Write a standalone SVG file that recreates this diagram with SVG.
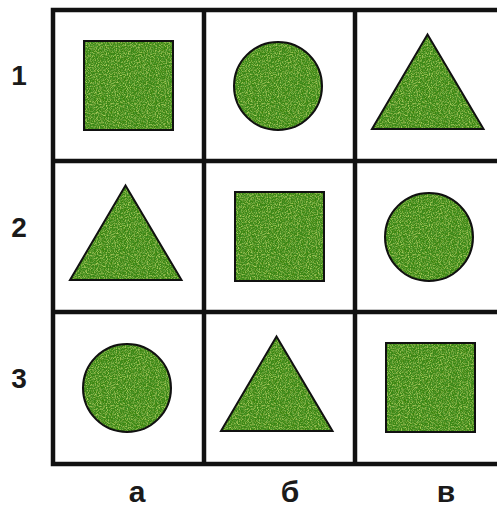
<svg xmlns="http://www.w3.org/2000/svg" xmlns:xlink="http://www.w3.org/1999/xlink" width="497" height="509" viewBox="0 0 497 509">
  <style>
    .grid { fill: none; stroke: #111; stroke-width: 4.5; }
    .fig { fill: #3b8618; stroke: none; }
    .edge { fill: none; stroke: #111; stroke-width: 2; }
    .lbl { font-family: "Liberation Sans", Arial, sans-serif; font-weight: bold; fill: #1a1a1a; text-anchor: middle; }
    .num { font-size: 28px; }
    .let { font-size: 30px; }
  </style>
  <defs>
    <filter id="grain" x="0" y="0" width="100%" height="100%">
      <feTurbulence type="fractalNoise" baseFrequency="0.9" numOctaves="2" seed="4" result="n"/>
      <feColorMatrix in="n" type="matrix" values="0 0 0 0 0.55  0 0 0 0 0.78  0 0 0 0 0.15  2.0 0 0 0 -0.95" result="sp"/>
      <feComposite in="sp" in2="SourceGraphic" operator="in" result="sp2"/>
      <feTurbulence type="fractalNoise" baseFrequency="0.6" numOctaves="2" seed="9" result="n2"/>
      <feColorMatrix in="n2" type="matrix" values="0 0 0 0 0.10  0 0 0 0 0.36  0 0 0 0 0.04  2.0 0 0 0 -0.85" result="dk"/>
      <feComposite in="dk" in2="SourceGraphic" operator="in" result="dk2"/>
      <feMerge><feMergeNode in="SourceGraphic"/><feMergeNode in="dk2"/><feMergeNode in="sp2"/></feMerge>
    </filter>
    <rect id="sq" x="31" y="31" width="89" height="89"/>
    <circle id="ci" cx="74" cy="76" r="44"/>
    <polygon id="tr" points="72.5,24.5 17,119 128.5,119"/>
  </defs>

  <rect width="497" height="509" fill="#ffffff"/>

  <g id="grid">
    <rect class="grid" x="53" y="10" width="454" height="454"/>
    <line class="grid" x1="204" y1="10" x2="204" y2="464"/>
    <line class="grid" x1="355" y1="10" x2="355" y2="464"/>
    <line class="grid" x1="53" y1="161" x2="507" y2="161"/>
    <line class="grid" x1="53" y1="312" x2="507" y2="312"/>
  </g>

  <g id="cell-1a" transform="translate(53,10)">
    <use xlink:href="#sq" class="fig" filter="url(#grain)"/><use xlink:href="#sq" class="edge"/>
  </g>
  <g id="cell-1b" transform="translate(204,10)">
    <use xlink:href="#ci" class="fig" filter="url(#grain)"/><use xlink:href="#ci" class="edge"/>
  </g>
  <g id="cell-1c" transform="translate(355,10)">
    <use xlink:href="#tr" class="fig" filter="url(#grain)"/><use xlink:href="#tr" class="edge"/>
  </g>
  <g id="cell-2a" transform="translate(53,161)">
    <use xlink:href="#tr" class="fig" filter="url(#grain)"/><use xlink:href="#tr" class="edge"/>
  </g>
  <g id="cell-2b" transform="translate(204,161)">
    <use xlink:href="#sq" class="fig" filter="url(#grain)"/><use xlink:href="#sq" class="edge"/>
  </g>
  <g id="cell-2c" transform="translate(355,161)">
    <use xlink:href="#ci" class="fig" filter="url(#grain)"/><use xlink:href="#ci" class="edge"/>
  </g>
  <g id="cell-3a" transform="translate(53,312)">
    <use xlink:href="#ci" class="fig" filter="url(#grain)"/><use xlink:href="#ci" class="edge"/>
  </g>
  <g id="cell-3b" transform="translate(204,312)">
    <use xlink:href="#tr" class="fig" filter="url(#grain)"/><use xlink:href="#tr" class="edge"/>
  </g>
  <g id="cell-3c" transform="translate(355,312)">
    <use xlink:href="#sq" class="fig" filter="url(#grain)"/><use xlink:href="#sq" class="edge"/>
  </g>

  <g id="labels">
    <text class="lbl num" x="19" y="85">1</text>
    <text class="lbl num" x="19" y="237">2</text>
    <text class="lbl num" x="19" y="388">3</text>
    <text class="lbl let" x="137" y="502">а</text>
    <text class="lbl let" x="290" y="502">б</text>
    <text class="lbl let" x="446" y="502">в</text>
  </g>
</svg>
